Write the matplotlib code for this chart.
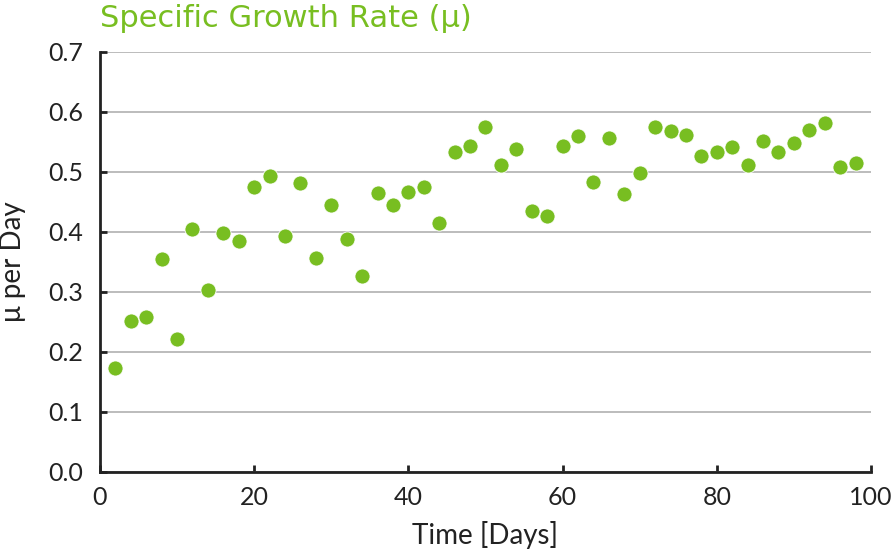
import matplotlib
matplotlib.use("Agg")
import matplotlib.pyplot as plt

# data
days = [2, 4, 6, 8, 10, 12, 14, 16, 18, 20, 22, 24, 26, 28, 30, 32, 34,
        36, 38, 40, 42, 44, 46, 48, 50, 52, 54, 56, 58, 60, 62, 64, 66,
        68, 70, 72, 74, 76, 78, 80, 82, 84, 86, 88, 90, 92, 94, 96, 98]
mu = [0.173, 0.251, 0.258, 0.354, 0.222, 0.405, 0.303, 0.397, 0.384,
      0.474, 0.492, 0.392, 0.481, 0.356, 0.444, 0.387, 0.326, 0.464,
      0.444, 0.466, 0.474, 0.414, 0.532, 0.543, 0.574, 0.511, 0.537,
      0.434, 0.426, 0.543, 0.559, 0.482, 0.556, 0.462, 0.498, 0.575,
      0.567, 0.561, 0.526, 0.533, 0.541, 0.511, 0.551, 0.532, 0.548,
      0.569, 0.581, 0.507, 0.515]

x_ticks = [0, 20, 40, 60, 80, 100]
y_ticks = [0.0, 0.1, 0.2, 0.3, 0.4, 0.5, 0.6, 0.7]

green = '#78be21'
dark = '#222222'

plt.rcParams['font.family'] = ['Lato', 'DejaVu Sans']

fig = plt.figure(figsize=(8.95, 5.55), dpi=100)
ax = fig.add_axes([0.1117, 0.150, 0.8615, 0.757])

ax.scatter(days, mu, s=118, color=green, edgecolors='white', linewidths=0.6, zorder=3)

ax.set_xlim(0, 100)
ax.set_ylim(0, 0.7)
ax.set_xticks(x_ticks)
ax.set_yticks(y_ticks)
ax.set_yticklabels(['%.1f' % v for v in y_ticks])
ax.grid(axis='y', color='#b0b0b0', linewidth=1.2, zorder=0)
ax.set_axisbelow(True)

for side in ['top', 'right']:
    ax.spines[side].set_visible(False)
for side in ['left', 'bottom']:
    ax.spines[side].set_color(dark)
    ax.spines[side].set_linewidth(2)

ax.tick_params(direction='in', length=5, width=2, color=dark, labelsize=18,
               labelcolor=dark)
ax.tick_params(axis='y', pad=12)
ax.tick_params(axis='x', pad=10)

ax.set_xlabel('Time [Days]', fontsize=20, color=dark, labelpad=9)
ax.set_ylabel('μ per Day', fontsize=20, color=dark, labelpad=16)
fig.text(0.112, 0.966, 'Specific Growth Rate (μ)', fontsize=22, color=green,
         ha='left', va='center', family=['DejaVu Sans'])

fig.savefig('out.png', dpi=100)
